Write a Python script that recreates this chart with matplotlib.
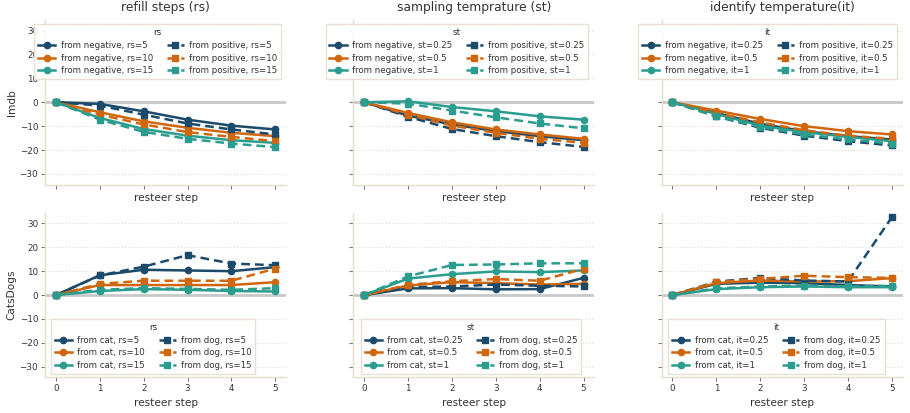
import matplotlib
matplotlib.use("Agg")
import matplotlib.pyplot as plt

steps = [0, 1, 2, 3, 4, 5]

col_titles = ["refill steps (rs)", "sampling temprature (st)", "identify temperature(it)"]
param_names = ["rs", "st", "it"]
param_values = [["5", "10", "15"], ["0.25", "0.5", "1"], ["0.25", "0.5", "1"]]
row_names = ["Imdb", "CatsDogs"]
source_names = [["negative", "positive"], ["cat", "dog"]]

# Imdb row: [panel][param index] -> values
imdb_from_neg = [
    [[0, -0.7, -3.8, -7.3, -9.8, -11.4],
     [0, -4.2, -8.0, -10.7, -12.8, -14.2],
     [0, -6.6, -11.2, -14.0, -15.9, -17.0]],
    [[0, -5.6, -9.3, -12.1, -14.2, -15.9],
     [0, -4.5, -8.4, -11.4, -13.5, -15.3],
     [0, 0.4, -2.0, -3.8, -5.9, -7.3]],
    [[0, -4.5, -9.0, -12.1, -14.2, -15.6],
     [0, -3.5, -7.0, -10.0, -12.1, -13.5],
     [0, -4.9, -9.8, -12.5, -14.5, -16.3]],
]
imdb_from_pos = [
    [[0, -1.4, -5.2, -8.9, -11.4, -13.5],
     [0, -5.2, -9.3, -12.5, -14.5, -16.3],
     [0, -7.3, -12.4, -15.3, -17.3, -18.8]],
    [[0, -6.1, -11.2, -14.2, -16.7, -18.7],
     [0, -5.2, -9.8, -12.8, -15.3, -17.0],
     [0, -0.6, -3.5, -6.3, -8.9, -10.9]],
    [[0, -5.9, -10.7, -14.0, -16.3, -18.1],
     [0, -4.5, -8.4, -11.7, -14.0, -15.3],
     [0, -5.9, -10.3, -13.5, -15.6, -17.3]],
]
# CatsDogs row
cd_from_cat = [
    [[0, 8.3, 10.6, 10.3, 10.0, 11.7],
     [0, 4.2, 4.2, 4.2, 4.2, 5.4],
     [0, 1.7, 2.5, 2.2, 1.7, 1.5]],
    [[0, 2.8, 2.9, 2.4, 2.5, 7.2],
     [0, 4.0, 5.4, 5.0, 4.4, 4.7],
     [0, 6.9, 8.75, 9.9, 9.6, 10.3]],
    [[0, 4.7, 5.2, 5.0, 4.2, 3.6],
     [0, 5.0, 6.1, 5.7, 5.8, 7.1],
     [0, 2.5, 3.3, 3.6, 3.3, 3.3]],
]
cd_from_dog = [
    [[0, 8.2, 11.9, 16.7, 13.2, 12.5],
     [0, 4.7, 6.0, 6.0, 6.0, 11.1],
     [0, 2.2, 2.9, 2.6, 2.2, 2.9]],
    [[0, 3.3, 3.6, 4.4, 3.9, 3.6],
     [0, 4.3, 5.8, 6.7, 6.0, 11.0],
     [0, 7.8, 12.6, 12.8, 13.3, 13.3]],
    [[0, 5.6, 7.2, 6.1, 5.7, 32.5],
     [0, 5.4, 6.8, 8.1, 7.5, 7.2],
     [0, 2.8, 3.6, 4.0, 3.6, 3.9]],
]

colors = ["#1b4a6b", "#d0670f", "#2a9d8f"]
text_color = "#333333"
spine_color = "#e6ddd0"

plt.rcParams["font.family"] = ["DejaVu Sans"]
plt.rcParams["text.color"] = text_color
plt.rcParams["axes.labelcolor"] = text_color
plt.rcParams["xtick.color"] = "#777777"
plt.rcParams["ytick.color"] = "#777777"
plt.rcParams["xtick.labelcolor"] = text_color
plt.rcParams["ytick.labelcolor"] = text_color

fig, axes = plt.subplots(2, 3, figsize=(9.1, 4.13), dpi=100, sharex=True, sharey=True)
fig.subplots_adjust(left=0.0495, right=0.992, top=0.952, bottom=0.086,
                    wspace=0.278, hspace=0.17)

top_anchor_x = [0.467, 0.43, 0.44]
bot_anchor_x = [0.448, 0.488, 0.477]

for r in range(2):
    for c in range(3):
        ax = axes[r, c]
        ax.axhline(0, color="#c8c8c8", lw=2.0, zorder=1)
        for k in range(3):
            if r == 0:
                a = imdb_from_neg[c][k]
            else:
                a = cd_from_cat[c][k]
            pn = param_names[c]
            pv = param_values[c][k]
            ax.plot(steps, a, color=colors[k], lw=1.8, marker="o", ms=4.5,
                    label=f"from {source_names[r][0]}, {pn}={pv}", zorder=3)
        for k in range(3):
            if r == 0:
                b = imdb_from_pos[c][k]
            else:
                b = cd_from_dog[c][k]
            pn = param_names[c]
            pv = param_values[c][k]
            ax.plot(steps, b, color=colors[k], lw=1.8, ls="--", dashes=(3.5, 2),
                    marker="s", ms=4.5,
                    label=f"from {source_names[r][1]}, {pn}={pv}", zorder=3)

        ax.set_xlim(-0.25, 5.25)
        ax.set_ylim(-34.5, 34.5)
        ax.set_xticks(steps)
        ax.set_yticks([-30, -20, -10, 0, 10, 20, 30])
        ax.grid(axis="y", ls=":", color="#dddddd", lw=0.8)
        ax.set_axisbelow(True)
        for s in ["top", "right"]:
            ax.spines[s].set_visible(False)
        for s in ["left", "bottom"]:
            ax.spines[s].set_color(spine_color)
            ax.spines[s].set_linewidth(1.0)
        ax.tick_params(labelsize=6.3, length=3, width=0.8, pad=2)
        ax.tick_params(axis="x", labelbottom=(r == 1))
        ax.set_xlabel("resteer step", fontsize=7.6, labelpad=3)
        if c == 0:
            ax.set_ylabel(row_names[r], fontsize=7.6, labelpad=2)
        if r == 0:
            ax.set_title(col_titles[c], fontsize=8.8, pad=6)
            loc = "upper center"
            anchor = (top_anchor_x[c], 0.975)
        else:
            loc = "lower center"
            anchor = (bot_anchor_x[c], 0.02)
        leg = ax.legend(title=param_names[c], ncol=2, loc=loc, bbox_to_anchor=anchor,
                        fontsize=6.2, title_fontsize=6.4, frameon=True,
                        handlelength=2.0, handletextpad=0.6, columnspacing=1.6,
                        labelspacing=0.45, borderpad=0.45, borderaxespad=0.0,
                        fancybox=False)
        leg.get_frame().set_edgecolor(spine_color)
        leg.get_frame().set_linewidth(1.0)
        leg.get_frame().set_facecolor("white")
        leg.get_frame().set_alpha(0.9)

fig.savefig("out.png", dpi=100)
